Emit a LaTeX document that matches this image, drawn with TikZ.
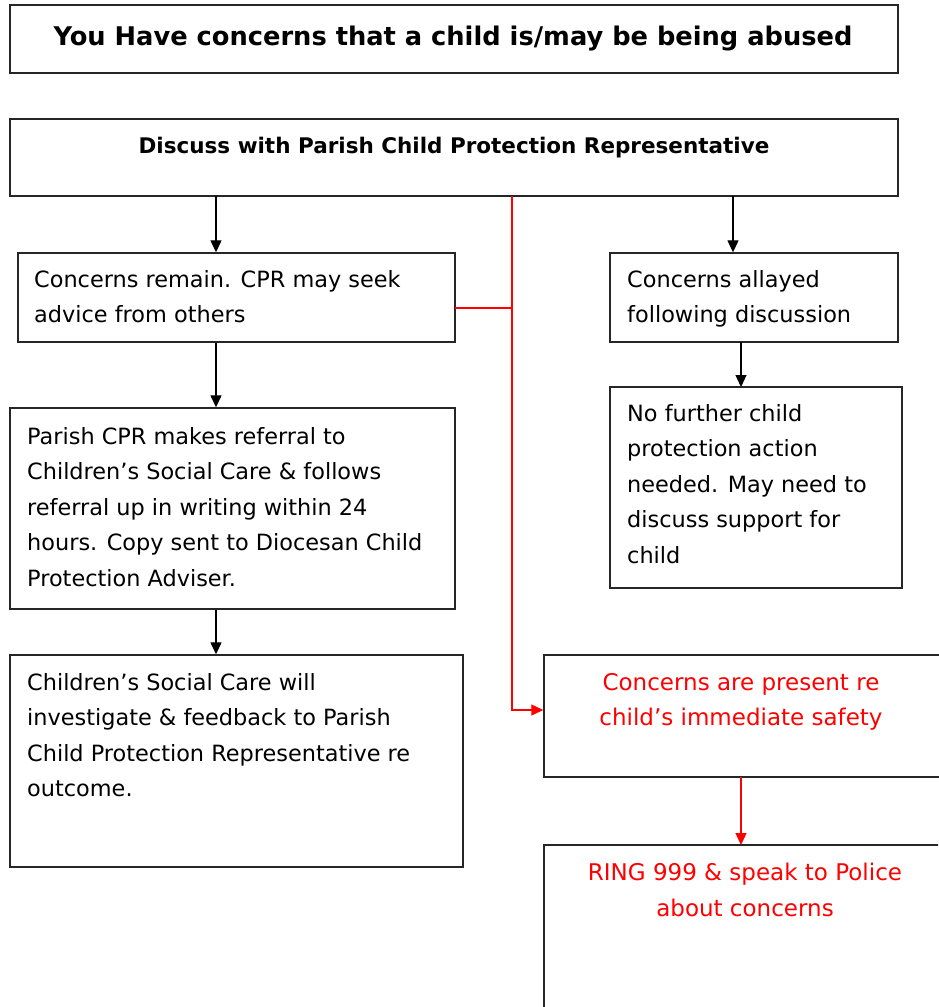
\documentclass[tikz,border=0pt]{standalone}
\usepackage{fontspec}
\setmainfont{DejaVu Sans}
\usetikzlibrary{arrows.meta}
\definecolor{redline}{RGB}{255,0,0}
\tikzset{
  x=1pt,y=-1pt,
  box/.style={draw=black!85,line width=1.4pt,inner sep=0pt},
  txt/.style={inner sep=0pt,anchor=north west,align=left,font=\fontsize{22.4}{35.5}\selectfont},
  rtxt/.style={inner sep=0pt,anchor=north,align=center,text=redline,font=\fontsize{23}{35.5}\selectfont},
  arr/.style={line width=1.3pt,-{Triangle[length=12pt,width=11pt]}},
  rarr/.style={draw=redline,line width=1.3pt,-{Triangle[length=12pt,width=11pt]}},
  rline/.style={draw=redline,line width=1.3pt}
}
\newcommand{\boxat}[5]{\node[box,minimum width={#4-#2},minimum height={#5-#3}] (#1) at ({(#2+#4)/2},{(#3+#5)/2}) {};}
\begin{document}
\begin{tikzpicture}
\useasboundingbox (0,0) rectangle (938,1007);
% boxes
\boxat{top}{10}{5}{898}{73}
\boxat{disc}{10}{119}{898}{196}
\boxat{remain}{18}{253}{455}{342}
\boxat{allay}{610}{253}{898}{342}
\boxat{nofur}{610}{387}{902}{588}
\boxat{cpr}{10}{408}{455}{609}
\boxat{csc}{10}{655}{463}{867}
\boxat{pres}{544}{655}{940}{777}
\begin{scope}
\clip (0,0) rectangle (938,1007);
\node[box,minimum width=396,minimum height=200] (ring) at (742,945) {};
\end{scope}
% texts
\node[inner sep=0pt,font=\bfseries\fontsize{25.7}{30}\selectfont] (ttop) at (453,39) {You Have concerns that a child is/may be being abused};
\node[inner sep=0pt,font=\bfseries\fontsize{21.5}{24}\selectfont] (tdisc) at (454,148) {Discuss with Parish Child Protection Representative};
\node[txt] (tremain) at (34,270) {Concerns remain. CPR may seek\\advice from others};
\node[txt] (tallay) at (627,270) {Concerns allayed\\following discussion};
\node[txt] (tnofur) at (627,404) {No further child\\protection action\\needed. May need to\\discuss support for\\child};
\node[txt] (tcpr) at (27,427) {Parish CPR makes referral to\\Children’s Social Care \& follows\\referral up in writing within 24\\hours. Copy sent to Diocesan Child\\Protection Adviser.};
\node[txt] (tcsc) at (27,673) {Children’s Social Care will\\investigate \& feedback to Parish\\Child Protection Representative re\\outcome.};
\node[rtxt] (tpres) at (741,673) {Concerns are present re\\child’s immediate safety};
\node[rtxt] (tring) at (745,863) {RING 999 \& speak to Police\\about concerns};
% connectors
\coordinate (d1) at (216,196);
\coordinate (d2) at (733,196);
\coordinate (d3) at (512,196);
\coordinate (r1) at (455,308);
\coordinate (rj) at (512,308);
\draw[arr] (d1) -- (d1 |- remain.north);
\draw[arr] (d2) -- (d2 |- allay.north);
\draw[arr] (remain.south -| d1) -- (d1 |- cpr.north);
\draw[arr] (741,342) -- (741,387);
\draw[arr] (cpr.south -| d1) -- (d1 |- csc.north);
\draw[rarr] (d3) |- (pres.west |- 0,710);
\draw[rline] (r1) -- (rj);
\draw[rarr] (741,777) -- (741,845);
\end{tikzpicture}
\end{document}
